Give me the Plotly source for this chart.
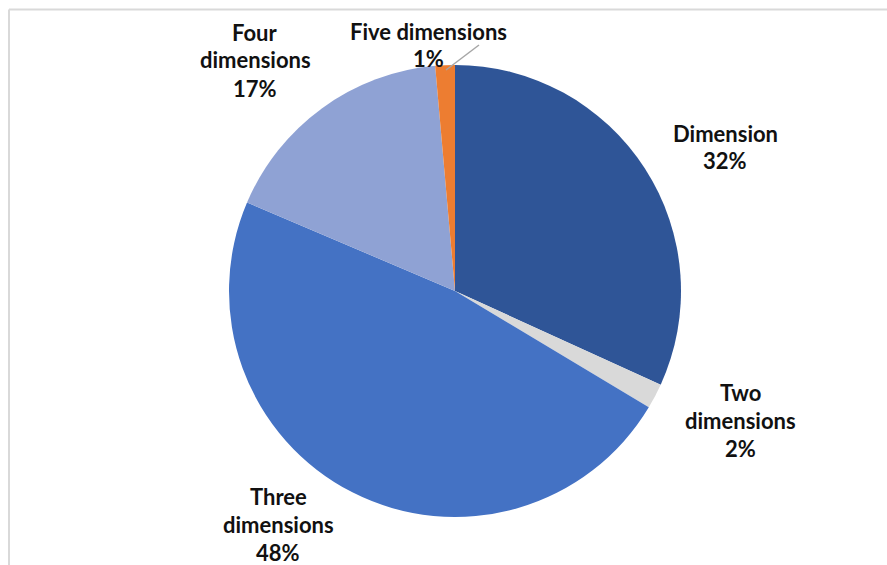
import plotly.graph_objects as go

categories = ["Dimension", "Two dimensions", "Three dimensions", "Four dimensions", "Five dimensions"]
values = [31.8, 1.8, 47.8, 17.2, 1.4]
colors = ["#2F5597", "#D9D9D9", "#4472C4", "#8FA2D4", "#ED7D31"]
# label text lines (as shown on the chart)
label_lines = [
    ["Dimension", "32%"],
    ["Two", "dimensions", "2%"],
    ["Three", "dimensions", "48%"],
    ["Four", "dimensions", "17%"],
    ["Five dimensions", "1%"],
]
# label centers in pixels (x, y of first line)
label_pos = [(725, 133), (740, 392), (278, 496), (255, 32), (428, 31)]

W, H = 887, 565
cx, cy, r = 455, 291, 226

fig = go.Figure(go.Pie(
    labels=categories,
    values=values,
    sort=False,
    direction="clockwise",
    rotation=0,
    marker=dict(colors=colors, line=dict(width=0)),
    textinfo="none",
    hoverinfo="label+percent",
    showlegend=False,
    domain=dict(x=[(cx - r) / W, (cx + r) / W], y=[(H - cy - r) / H, (H - cy + r) / H]),
))

annotations = []
line_h = 28
for lines, (lx, ly) in zip(label_lines, label_pos):
    for i, t in enumerate(lines):
        annotations.append(dict(
            x=lx / W, y=1 - (ly + i * line_h) / H, xref="paper", yref="paper",
            text="<b>" + t + "</b>", showarrow=False, xanchor="center", yanchor="middle",
            font=dict(family="Lato", size=22, color="#111111"),
        ))

shapes = [
    # leader line for Five dimensions
    dict(type="line", xref="paper", yref="paper",
         x0=446 / W, y0=1 - 70 / H, x1=479 / W, y1=1 - 45 / H,
         line=dict(color="#A6A6A6", width=1.5)),
    # chart frame (top and left edges)
    dict(type="line", xref="paper", yref="paper",
         x0=9 / W, y0=1 - 9.5 / H, x1=1, y1=1 - 9.5 / H,
         line=dict(color="#D9D9D9", width=2)),
    dict(type="line", xref="paper", yref="paper",
         x0=9 / W, y0=1 - 9.5 / H, x1=9 / W, y1=0,
         line=dict(color="#D9D9D9", width=2)),
]

fig.update_layout(
    width=W, height=H,
    margin=dict(l=0, r=0, t=0, b=0),
    paper_bgcolor="white",
    plot_bgcolor="white",
    annotations=annotations,
    shapes=shapes,
)

fig.write_html("out.html")
